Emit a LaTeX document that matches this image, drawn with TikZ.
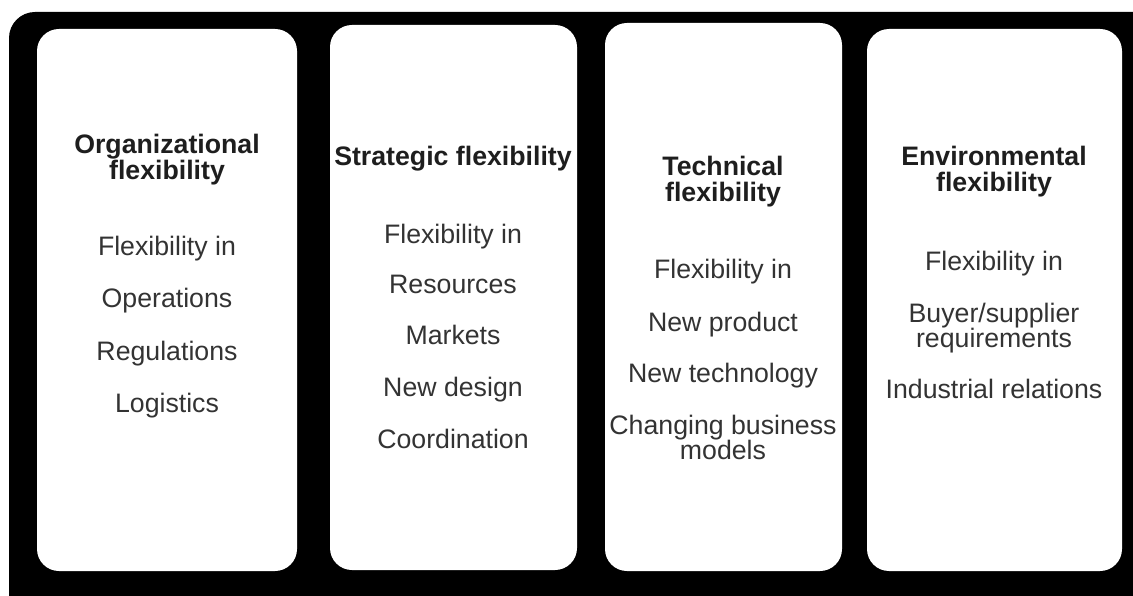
\documentclass[tikz,border=0pt]{standalone}
\usepackage{fontspec}
\setmainfont{Liberation Sans}
\definecolor{titlecol}{HTML}{1E1E1E}
\definecolor{bodycol}{HTML}{333333}
\tikzset{
  panel/.style={fill=white, draw=none, rounded corners=22pt},
  ttl/.style={anchor=base, align=center, text=titlecol, font=\fontsize{26.7}{26}\selectfont\bfseries, inner sep=0pt},
  itm/.style={anchor=base, align=center, text=bodycol, font=\fontsize{26.7}{25}\selectfont, inner sep=0pt}
}
\begin{document}
\begin{tikzpicture}[x=1pt,y=-1pt]
\useasboundingbox (0,0) rectangle (1133,596);
\begin{scope}
\clip (0,0) rectangle (1133,596);
\fill[black, rounded corners=26pt] (9,12) rectangle (1160,630);
\end{scope}
% panels
\fill[panel] (37,29) rectangle (297,571);
\fill[panel] (330,25) rectangle (577,570);
\fill[panel] (605,23) rectangle (842,571);
\fill[panel] (867,29) rectangle (1122,571);
% box 1 (multi-line nodes: base = baseline of last line)
\node[ttl] (t1) at (167,180) {Organizational\\flexibility};
\node[itm] (a1) at (167,255) {Flexibility in};
\node[itm] (a2) at (167,308) {Operations};
\node[itm] (a3) at (167,360) {Regulations};
\node[itm] (a4) at (167,412) {Logistics};
% box 2
\node[ttl] (t2) at (453,166) {Strategic flexibility};
\node[itm] (b1) at (453,244) {Flexibility in};
\node[itm] (b2) at (453,294) {Resources};
\node[itm] (b3) at (453,344) {Markets};
\node[itm] (b4) at (453,396) {New design};
\node[itm] (b5) at (453,448) {Coordination};
% box 3
\node[ttl] (t3) at (723,202) {Technical\\flexibility};
\node[itm] (c1) at (723,279) {Flexibility in};
\node[itm] (c2) at (723,331) {New product};
\node[itm] (c3) at (723,382) {New technology};
\node[itm] (c4) at (723,459) {Changing business\\models};
% box 4
\node[ttl] (t4) at (994,192) {Environmental\\flexibility};
\node[itm] (d1) at (994,270) {Flexibility in};
\node[itm] (d2) at (994,347) {Buyer/supplier\\requirements};
\node[itm] (d3) at (994,398) {Industrial relations};
\end{tikzpicture}
\end{document}
